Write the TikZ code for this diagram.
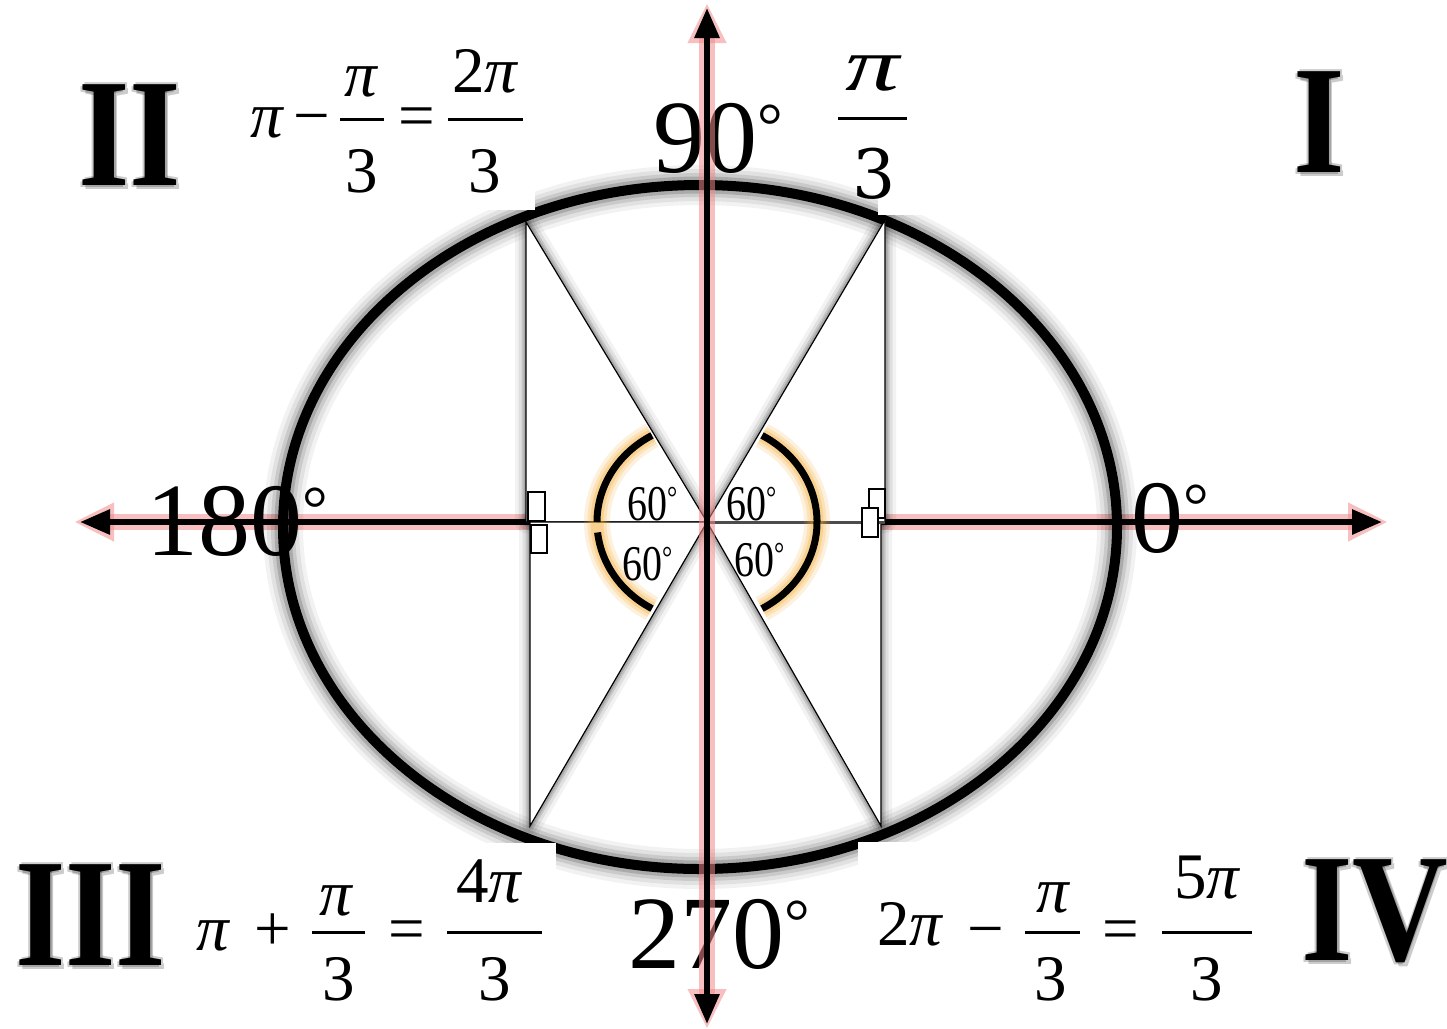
\documentclass[tikz,border=0pt]{standalone}
\usepackage{fontspec}
\setmainfont{Liberation Serif}
\newfontfamily\djv{DejaVu Serif}
\usepackage{graphicx}
\usetikzlibrary{arrows.meta}
\definecolor{glowred}{HTML}{F08A8A}
\definecolor{glowor}{HTML}{F5A623}
% degree ring as text: #1 font size, #2 raise
\newcommand\degsym[2]{\raisebox{#2}{\fontsize{#1}{#1}\selectfont °}}
\newcommand\bigdeg{\degsym{64}{25pt}}
\newcommand\smalldeg{\degsym{32}{12pt}}
\tikzset{
  axisglow/.style={draw=glowred, line width=16pt, opacity=0.55, line cap=round,
    {Triangle[length=40pt,width=36pt]}-{Triangle[length=40pt,width=36pt]}},
  axisline/.style={draw=black, line width=6pt,
    {Triangle[length=30pt,width=24pt]}-{Triangle[length=30pt,width=24pt]}},
  tri/.style={draw=black, line width=1.2pt, fill=white, line join=miter},
  trishadow/.style={draw=black, line join=round},
  rabox/.style={draw=black, line width=1.5pt, fill=white},
  arcline/.style={draw=black, line width=7pt},
  deg/.style={anchor=base west, inner sep=0pt, font=\fontsize{104}{104}\selectfont},
  sixty/.style={anchor=base west, inner sep=0pt, font=\fontsize{50}{50}\selectfont},
  ft/.style={anchor=base, inner sep=0pt, font=\fontsize{65}{65}\selectfont},
  fbar/.style={draw=black, line width=3pt},
  roman/.style={anchor=base west, inner sep=0pt, font=\fontsize{154}{154}\selectfont\bfseries},
  romshadow/.style={roman, text=black, opacity=0.2},
}
\begin{document}
\begin{tikzpicture}[x=1pt,y=-1pt]
\useasboundingbox (0,0) rectangle (1447,1028);
% key points
\coordinate (O) at (707,522);
\coordinate (E) at (700,527);
\coordinate (P1) at (885,220); \coordinate (F1) at (885,522);
\coordinate (P2) at (526,222); \coordinate (F2) at (526,522);
\coordinate (P3) at (530,826); \coordinate (F3) at (530,522);
\coordinate (P4) at (881,826); \coordinate (F4) at (881,522);
\coordinate (HL) at (80,522); \coordinate (HR) at (1382,522);
\coordinate (HLg) at (74,522); \coordinate (HRg) at (1388,522);
\coordinate (VT) at (707,8); \coordinate (VB) at (707,1024);
\coordinate (VTg) at (707,3); \coordinate (VBg) at (707,1029);

% horizontal axis
\draw[axisglow] (HLg) -- (HRg);
\draw[axisline] (HL) -- (HR);

% degree labels
\node[deg] (n180) at (146,555) {180\bigdeg};
\node[deg] (n0) at (1131,552) {0\bigdeg};
\node[deg] (n90) at (653,172) {90\bigdeg};
\node[deg] (n270) at (628,968) {270\bigdeg};

% ellipse with soft shadow
\foreach \w/\o in {40/0.05,32/0.07,24/0.10,17/0.16}
  \draw[black, opacity=\o, line width=\w pt] (E) ellipse [x radius=417, y radius=342];
\draw[black, line width=10pt] (E) ellipse [x radius=417, y radius=342];

% triangle shadows
\foreach \w/\o in {22/0.05,15/0.08,9/0.12,5/0.15}{
  \draw[trishadow, opacity=\o, line width=\w pt] (O) -- (P1) -- (F1) -- cycle;
  \draw[trishadow, opacity=\o, line width=\w pt] (O) -- (P2) -- (F2) -- cycle;
  \draw[trishadow, opacity=\o, line width=\w pt] (O) -- (P3) -- (F3) -- cycle;
  \draw[trishadow, opacity=\o, line width=\w pt] (O) -- (P4) -- (F4) -- cycle;
}
% triangles
\draw[tri] (O) -- (P1) -- (F1) -- cycle;
\draw[tri] (O) -- (P2) -- (F2) -- cycle;
\draw[tri] (O) -- (P3) -- (F3) -- cycle;
\draw[tri] (O) -- (P4) -- (F4) -- cycle;
\draw[black!70, line width=3pt] (O) -- (F1);

% right-angle markers
\draw[rabox] (528,492) rectangle (545,521);
\draw[rabox] (531,525) rectangle (547,553);
\draw[rabox] (869,489) rectangle (885,518);
\draw[rabox] (862,508) rectangle (878,537);

% vertical axis
\draw[axisglow] (VBg) -- (VTg);
\draw[axisline] (VB) -- (VT);

% angle arcs with orange glow
\foreach \w/\o in {26/0.15,19/0.2,13/0.25}{
  \draw[glowor, opacity=\o, line width=\w pt] ([shift={(-60:110 and 100)}]O) arc[start angle=-60, end angle=60, x radius=110, y radius=100];
  \draw[glowor, opacity=\o, line width=\w pt] ([shift={(120:110 and 100)}]O) arc[start angle=120, end angle=240, x radius=110, y radius=100];
}
\draw[arcline] ([shift={(-60:110 and 100)}]O) arc[start angle=-60, end angle=60, x radius=110, y radius=100];
\draw[arcline] ([shift={(180:110 and 100)}]O) arc[start angle=180, end angle=240, x radius=110, y radius=100];
\draw[arcline] ([shift={(120:110 and 100)}]O) arc[start angle=120, end angle=174, x radius=110, y radius=100];

% 60 degree labels
\node[sixty] (a1) at (627,520) {\scalebox{0.8}[1]{60\smalldeg}};
\node[sixty] (a2) at (726,520) {\scalebox{0.8}[1]{60\smalldeg}};
\node[sixty] (a3) at (622,580) {\scalebox{0.8}[1]{60\smalldeg}};
\node[sixty] (a4) at (734,576) {\scalebox{0.8}[1]{60\smalldeg}};

% white label boxes cutting the ellipse
\fill[white] (240,30) rectangle (535,210);
\fill[white] (878,30) rectangle (1010,215);
\fill[white] (188,843) rectangle (556,1015);
\fill[white] (858,842) rectangle (1262,1015);

% formula II: pi - pi/3 = 2pi/3
\node[ft] (t2a) at (267,137) {\itshape π};
\node[ft] (t2b) at (312,137) {−};
\node[ft] (t2c) at (361,96) {\itshape π};
\draw[fbar] (340,119) -- (384,119);
\node[ft] (t2d) at (362,192) {3};
\node[ft] (t2e) at (417,137) {=};
\node[ft] (t2f) at (485,92) {2\itshape π};
\draw[fbar] (448,119) -- (523,119);
\node[ft] (t2g) at (485,192) {3};

% formula I: pi/3
\node[anchor=base, inner sep=0pt, font=\fontsize{72}{72}\selectfont] (t1a) at (873,90) {\scalebox{1.5}[1.05]{\itshape π}};
\draw[fbar] (838,118) -- (907,118);
\node[anchor=base, inner sep=0pt, font=\djv\fontsize{68}{68}\selectfont] (t1b) at (874,198) {3};

% formula III: pi + pi/3 = 4pi/3
\node[ft] (t3a) at (213,950) {\itshape π};
\node[ft] (t3b) at (273,950) {+};
\node[ft] (t3c) at (336,915) {\itshape π};
\draw[fbar] (312,932) -- (365,932);
\node[ft] (t3d) at (339,1000) {3};
\node[ft] (t3e) at (407,950) {=};
\node[ft] (t3f) at (489,902) {4\itshape π};
\draw[fbar] (447,932) -- (542,932);
\node[ft] (t3g) at (495,1000) {3};

% formula IV: 2pi - pi/3 = 5pi/3
\node[ft] (t4a) at (910,945) {2\itshape π};
\node[ft] (t4b) at (986,950) {−};
\node[ft] (t4c) at (1053,912) {\itshape π};
\draw[fbar] (1025,932) -- (1080,932);
\node[ft] (t4d) at (1051,1000) {3};
\node[ft] (t4e) at (1121,950) {=};
\node[ft] (t4f) at (1207,898) {5\itshape π};
\draw[fbar] (1162,932) -- (1252,932);
\node[ft] (t4g) at (1207,1000) {3};

% quadrant numerals with shadow
\foreach \dx/\dy in {3/4,-2/2,2/-2}{
  \node[romshadow] at (78+\dx,185+\dy) {\scalebox{0.86}[1]{II}};
  \node[romshadow] at (1293+\dx,172+\dy) {\scalebox{0.86}[1]{I}};
  \node[romshadow] at (15+\dx,965+\dy) {\scalebox{0.84}[1]{III}};
  \node[romshadow] at (1301+\dx,960+\dy) {\scalebox{0.86}[1]{IV}};
}
\node[roman] (q2) at (78,185) {\scalebox{0.86}[1]{II}};
\node[roman] (q1) at (1293,172) {\scalebox{0.86}[1]{I}};
\node[roman] (q3) at (15,965) {\scalebox{0.84}[1]{III}};
\node[roman] (q4) at (1301,960) {\scalebox{0.86}[1]{IV}};
\end{tikzpicture}
\end{document}
